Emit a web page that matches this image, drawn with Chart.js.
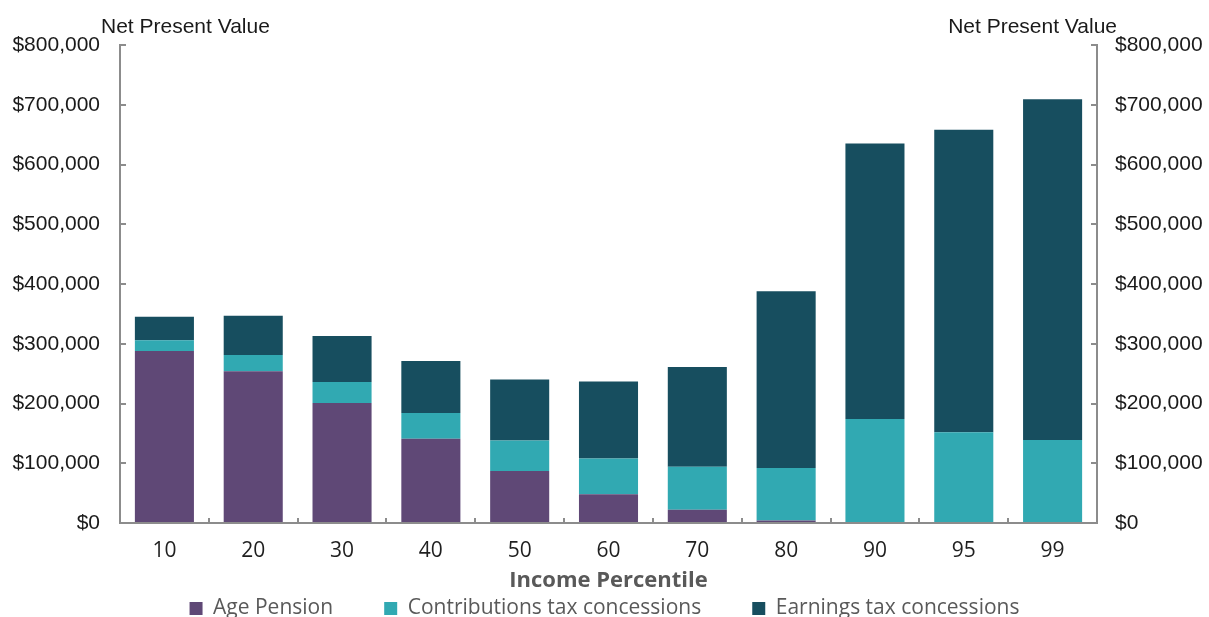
<!DOCTYPE html>
<html lang="en">
<head>
    <meta charset="UTF-8">
    <title>Net Present Value by Income Percentile</title>
    <script src="https://cdn.jsdelivr.net/npm/chart.js"></script>
    <style>
        body { margin: 0; background: #fff; }
        .wrap { width: 1209px; height: 617px; position: relative; }
    </style>
</head>
<body>
    <div class="wrap">
        <canvas id="npvChart"></canvas>
    </div>

    <script>
        // values ($)
        const percentiles = ['10', '20', '30', '40', '50', '60', '70', '80', '90', '95', '99'];
        const agePension = [288000, 254000, 201000, 141000, 87000, 48000, 22000, 4000, 0, 0, 0];
        const contributionsConcessions = [18000, 27000, 35000, 43000, 51000, 60000, 72000, 88000, 174000, 152000, 139000];
        const earningsConcessions = [39000, 66000, 77000, 87000, 102000, 129000, 167000, 296000, 461000, 506000, 570000];
        const axisMin = 0;
        const axisMax = 800000;
        const axisStep = 100000;

        const axisGrey = '#8c8c8c';
        const labelFont = "'Liberation Sans', Arial, sans-serif";
        const calibriLike = "'Open Sans', 'Noto Sans', sans-serif";

        const money = v => '$' + Number(v).toLocaleString('en-US');

        // "Net Present Value" captions above each value axis
        const axisCaptions = {
            id: 'axisCaptions',
            afterDraw(chart) {
                const { ctx, chartArea } = chart;
                ctx.save();
                ctx.font = '21px ' + labelFont;
                ctx.fillStyle = '#1a1a1a';
                ctx.textBaseline = 'middle';
                ctx.textAlign = 'left';
                ctx.fillText('Net Present Value', chartArea.left - 19, chartArea.top - 18);
                ctx.textAlign = 'right';
                ctx.fillText('Net Present Value', chartArea.right + 20, chartArea.top - 18);
                ctx.restore();
            }
        };

        const valueAxis = (position, padding, width) => ({
            type: 'linear',
            position: position,
            stacked: true,
            min: axisMin,
            max: axisMax,
            border: { display: true, color: axisGrey, width: 2 },
            grid: {
                drawOnChartArea: false,
                drawTicks: true,
                tickLength: -6,
                color: axisGrey,
                lineWidth: 2
            },
            ticks: {
                stepSize: axisStep,
                padding: padding,
                color: '#1a1a1a',
                font: { family: labelFont, size: 21 },
                callback: v => money(v)
            },
            afterFit(scale) { scale.width = width; }
        });

        new Chart(document.getElementById('npvChart'), {
            type: 'bar',
            data: {
                labels: percentiles,
                datasets: [
                    { label: 'Age Pension', data: agePension, backgroundColor: '#5f4876' },
                    { label: 'Contributions tax concessions', data: contributionsConcessions, backgroundColor: '#31a9b2' },
                    { label: 'Earnings tax concessions', data: earningsConcessions, backgroundColor: '#174e5f' }
                ]
            },
            options: {
                responsive: true,
                maintainAspectRatio: false,
                animation: false,
                datasets: {
                    bar: { categoryPercentage: 1, barPercentage: 0.665 }
                },
                layout: { padding: { top: 45, left: 0, right: 0, bottom: -12 } },
                scales: {
                    x: {
                        stacked: true,
                        border: { display: true, color: axisGrey, width: 2 },
                        grid: {
                            offset: true,
                            drawOnChartArea: false,
                            drawTicks: true,
                            tickLength: -5,
                            color: axisGrey,
                            lineWidth: 2
                        },
                        ticks: {
                            padding: 20,
                            color: '#1f1f1f',
                            font: { family: calibriLike, size: 21 }
                        },
                        title: {
                            display: true,
                            text: 'Income Percentile',
                            color: '#595959',
                            font: { family: calibriLike, size: 22, weight: 'bold' },
                            padding: { top: 2, bottom: 2 }
                        },
                        afterFit(scale) { scale.height = 73; }
                    },
                    y: valueAxis('left', 26, 120),
                    y2: valueAxis('right', 24, 112)
                },
                plugins: {
                    tooltip: { enabled: false },
                    legend: {
                        position: 'bottom',
                        labels: {
                            boxWidth: 13,
                            boxHeight: 13,
                            padding: 2,
                            color: '#595959',
                            font: { family: calibriLike, size: 21 },
                            generateLabels(chart) {
                                const items = Chart.defaults.plugins.legend.labels.generateLabels(chart);
                                // wider gap between the legend entries, as in the original
                                items.forEach((it, i) => {
                                    it.lineWidth = 0;
                                    if (i < items.length - 1) it.text += '         ';
                                });
                                return items;
                            }
                        }
                    }
                }
            },
            plugins: [axisCaptions]
        });
    </script>
</body>
</html>
